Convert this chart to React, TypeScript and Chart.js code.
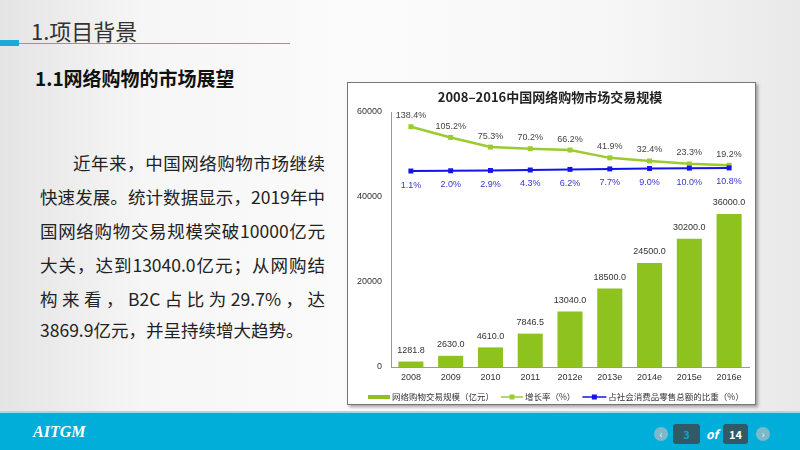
import React, { useEffect, useRef } from "react";
import { Chart, registerables } from "chart.js";

Chart.register(...registerables);

const categories = ["2008", "2009", "2010", "2011", "2012e", "2013e", "2014e", "2015e", "2016e"];
const marketScale = [1281.8, 2630.0, 4610.0, 7846.5, 13040.0, 18500.0, 24500.0, 30200.0, 36000.0];
const growthRate = [138.4, 105.2, 75.3, 70.2, 66.2, 41.9, 32.4, 23.3, 19.2];
const retailShare = [1.1, 2.0, 2.9, 4.3, 6.2, 7.7, 9.0, 10.0, 10.8];
const leftTicks = [0, 20000, 40000, 60000];

const chartTitle = "2008–2016中国网络购物市场交易规模";
const seriesNames = ["网络购物交易规模（亿元）", "增长率（%）", "占社会消费品零售总额的比重（%）"];

const BAR_GREEN = "#8DC21F";
const LINE_GREEN = "#9CCB30";
const LINE_BLUE = "#1414E6";
const LABEL_BLUE = "#3535D0";
const CJK = '"Noto Sans CJK SC", "Noto Sans", sans-serif';
const LAT = '"Liberation Sans", Arial, sans-serif';

const paragraphLines = [
  "近年来，中国网络购物市场继续",
  "快速发展。统计数据显示，2019年中",
  "国网络购物交易规模突破10000亿元",
  "大关，达到13040.0亿元；从网购结",
  "构来看，B2C占比为29.7%，达",
  "3869.9亿元，并呈持续增大趋势。",
];

const dataLabelPlugin = {
  id: "dataLabels",
  afterDatasetsDraw(chart: any) {
    const ctx = chart.ctx;
    ctx.save();
    ctx.textAlign = "center";
    ctx.textBaseline = "middle";
    chart.data.datasets.forEach((ds: any, i: number) => {
      const meta = chart.getDatasetMeta(i);
      meta.data.forEach((el: any, j: number) => {
        const v = ds.data[j];
        ctx.font = `9px ${LAT}`;
        if (i === 0) {
          ctx.fillStyle = "#333";
          ctx.fillText(v.toFixed(1), el.x, el.y - 11);
        } else if (i === 1) {
          ctx.fillStyle = "#444";
          ctx.fillText(v.toFixed(1) + "%", el.x, el.y - 11);
        } else {
          ctx.fillStyle = LABEL_BLUE;
          ctx.fillText(v.toFixed(1) + "%", el.x, el.y + 14);
        }
      });
    });
    ctx.restore();
  },
};

const legendPlugin = {
  id: "customLegend",
  afterDraw(chart: any) {
    const ctx = chart.ctx;
    ctx.save();
    const y = 314;
    let x = 20;
    ctx.font = `8.5px ${CJK}`;
    ctx.textBaseline = "middle";
    ctx.textAlign = "left";
    ctx.fillStyle = BAR_GREEN;
    ctx.fillRect(x, y - 2, 22, 4);
    x += 24;
    ctx.fillStyle = "#333";
    ctx.fillText(seriesNames[0], x, y);
    x += ctx.measureText(seriesNames[0]).width + 7;
    const drawLine = (color: string, w: number) => {
      ctx.strokeStyle = color;
      ctx.lineWidth = 1.5;
      ctx.beginPath();
      ctx.moveTo(x, y);
      ctx.lineTo(x + w, y);
      ctx.stroke();
      ctx.fillStyle = color;
      ctx.fillRect(x + w / 2 - 2.5, y - 2.5, 5, 5);
      x += w + 2;
    };
    drawLine(LINE_GREEN, 22);
    ctx.fillStyle = "#333";
    ctx.fillText(seriesNames[1], x, y);
    x += ctx.measureText(seriesNames[1]).width + 7;
    drawLine(LINE_BLUE, 24);
    ctx.fillStyle = "#333";
    ctx.fillText(seriesNames[2], x, y);
    ctx.restore();
  },
};

function ChartBox() {
  const ref = useRef<HTMLCanvasElement | null>(null);
  useEffect(() => {
    if (!ref.current) return;
    const chart = new Chart(ref.current, {
      type: "bar",
      data: {
        labels: categories,
        datasets: [
          {
            type: "bar",
            label: seriesNames[0],
            data: marketScale,
            backgroundColor: BAR_GREEN,
            yAxisID: "y",
            barPercentage: 0.63,
            categoryPercentage: 1,
            order: 3,
          },
          {
            type: "line",
            label: seriesNames[1],
            data: growthRate,
            borderColor: LINE_GREEN,
            backgroundColor: LINE_GREEN,
            borderWidth: 2.5,
            pointStyle: "rect",
            pointRadius: 3.5,
            pointBorderWidth: 0,
            yAxisID: "y2",
            order: 2,
          },
          {
            type: "line",
            label: seriesNames[2],
            data: retailShare,
            borderColor: LINE_BLUE,
            backgroundColor: LINE_BLUE,
            borderWidth: 2,
            pointStyle: "rect",
            pointRadius: 3.5,
            pointBorderWidth: 0,
            yAxisID: "y2",
            order: 1,
          },
        ] as any,
      },
      options: {
        responsive: false,
        animation: false,
        layout: { padding: { left: 3, right: 6, top: 6, bottom: 17 } },
        plugins: {
          legend: { display: false },
          tooltip: { enabled: false },
          title: {
            display: true,
            text: chartTitle,
            color: "#222",
            font: { family: CJK, size: 13, weight: "bold" },
            padding: { top: 0, bottom: 7.4 },
          },
        },
        scales: {
          x: {
            grid: { display: false, drawTicks: false },
            border: { display: true, color: "#9a9a9a", width: 1 },
            ticks: { color: "#333", font: { family: LAT, size: 9 }, padding: 5, maxRotation: 0 },
            afterFit(scale: any) {
              scale.height = 20;
            },
          },
          y: {
            position: "left",
            min: 0,
            max: 60000,
            afterBuildTicks(scale: any) {
              scale.ticks = leftTicks.map((v) => ({ value: v }));
            },
            grid: { display: false, drawTicks: false },
            border: { display: true, color: "#9a9a9a", width: 1 },
            ticks: {
              color: "#333",
              font: { family: LAT, size: 9 },
              padding: 9,
              callback: (v: any) => String(v),
            },
            afterFit(scale: any) {
              scale.width = 40;
            },
          },
          y2: {
            display: false,
            position: "right",
            min: -606,
            max: 184,
          },
        },
      } as any,
      plugins: [dataLabelPlugin, legendPlugin],
    });
    return () => chart.destroy();
  }, []);
  return <canvas ref={ref} width={407} height={321} style={{ display: "block", width: 407, height: 321 }} />;
}

export default function App() {
  return (
    <div
      style={{
        position: "fixed",
        left: 0,
        top: 0,
        width: 800,
        height: 450,
        overflow: "hidden",
        fontFamily: CJK,
        background: "linear-gradient(to right, #e4e4e4 0%, #f6f6f6 18%, #fbfbfb 45%, #f7f7f7 75%, #e9e9e9 100%)",
      }}
    >
      <div style={{ position: "absolute", left: 31, top: 16, fontSize: 22, lineHeight: "28px", color: "#333" }}>1.项目背景</div>
      <div style={{ position: "absolute", left: 0, top: 40, width: 19, height: 6, background: "#1EA7DA" }} />
      <div style={{ position: "absolute", left: 19, top: 42.5, width: 271, height: 1.5, background: "#3DB5E4" }} />
      <div style={{ position: "absolute", left: 35, top: 66, fontSize: 19, fontWeight: "bold", lineHeight: "24px", color: "#111" }}>
        1.1网络购物的市场展望
      </div>
      <div style={{ position: "absolute", left: 40, top: 146, width: 285, fontSize: 17.5, lineHeight: "34px", color: "#222" }}>
        {paragraphLines.map((t, i) => (
          <div
            key={i}
            style={{
              textAlign: i === paragraphLines.length - 1 ? "left" : "justify",
              textAlignLast: i === paragraphLines.length - 1 ? "left" : "justify",
              textIndent: i === 0 ? 33 : 0,
              whiteSpace: "nowrap",
              height: i === paragraphLines.length - 1 ? 31 : 34,
              marginTop: i === paragraphLines.length - 1 ? -3 : 0,
            }}
          >
            {t}
          </div>
        ))}
      </div>
      <div
        style={{
          position: "absolute",
          left: 347,
          top: 82,
          width: 407,
          height: 321,
          border: "1px solid #777",
          background: "#fff",
          boxShadow: "2px 2px 3px rgba(0,0,0,0.35)",
        }}
      >
        <ChartBox />
      </div>
      <div style={{ position: "absolute", left: 0, top: 411, width: 800, height: 2, background: "#9ddcee" }} />
      <div style={{ position: "absolute", left: 0, top: 413, width: 800, height: 37, background: "#00AEDA" }} />
      <div
        style={{
          position: "absolute",
          left: 33,
          top: 421,
          fontFamily: '"Liberation Serif", serif',
          fontStyle: "italic",
          fontWeight: "bold",
          fontSize: 16,
          lineHeight: "22px",
          color: "#fff",
        }}
      >
        AITGM
      </div>
      <div style={{ position: "absolute", left: 654, top: 427, width: 14, height: 14, borderRadius: 7, background: "#7db9c8", color: "#e8f4f8", fontSize: 10, lineHeight: "14px", textAlign: "center" }}>‹</div>
      <div style={{ position: "absolute", left: 673, top: 424, width: 27, height: 20, borderRadius: 3, background: "#2f5a66", color: "#1d9cc4", fontSize: 11, lineHeight: "20px", textAlign: "center", fontWeight: "bold" }}>3</div>
      <div style={{ position: "absolute", left: 706, top: 424, fontSize: 12, lineHeight: "20px", color: "#fff", fontStyle: "italic", fontWeight: "bold" }}>of</div>
      <div style={{ position: "absolute", left: 723, top: 424, width: 25, height: 20, borderRadius: 3, background: "#2f5a66", color: "#fff", fontSize: 11, lineHeight: "20px", textAlign: "center", fontWeight: "bold" }}>14</div>
      <div style={{ position: "absolute", left: 756, top: 427, width: 14, height: 14, borderRadius: 7, background: "#7db9c8", color: "#e8f4f8", fontSize: 10, lineHeight: "14px", textAlign: "center" }}>›</div>
    </div>
  );
}
